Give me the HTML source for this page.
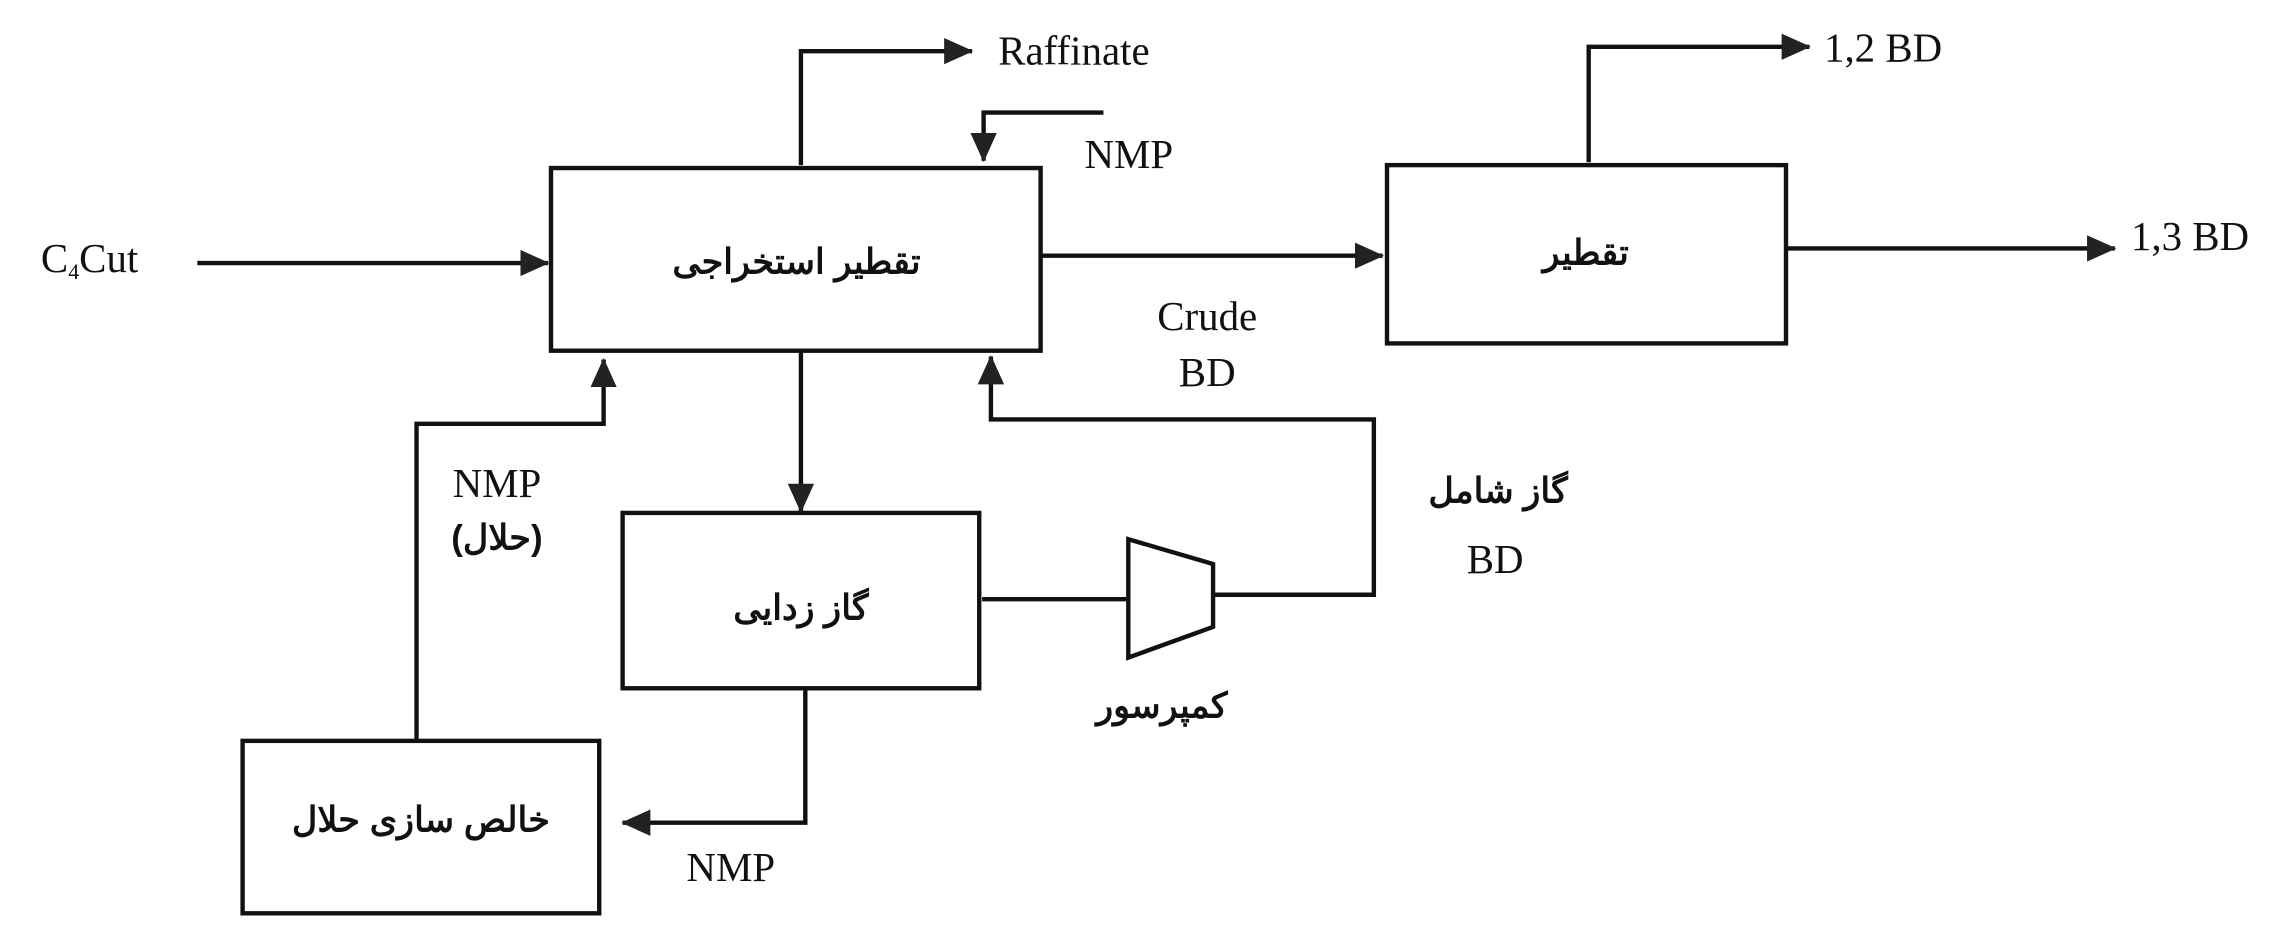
<!DOCTYPE html>
<html><head><meta charset="utf-8"><style>
html,body{margin:0;padding:0;background:#fff;}
svg{display:block}
.l{font-family:"Liberation Serif",serif;font-size:28px;fill:#111}
.p{font-family:"Liberation Sans","Noto Sans CJK SC",sans-serif;font-size:24px;font-weight:bold;fill:#111}
</style></head><body>
<svg width="2280" height="944" viewBox="0 0 1560 646" preserveAspectRatio="none" xmlns="http://www.w3.org/2000/svg">
<defs>
<marker id="b" markerWidth="20" markerHeight="18" refX="19" refY="9" orient="auto" markerUnits="userSpaceOnUse"><path d="M0,0 L20,9 L0,18z" fill="#222"/></marker></defs>
<g stroke="#111" stroke-width="3" fill="none">
<rect x="377" y="115" width="335" height="125"/>
<rect x="949" y="113" width="273" height="122"/>
<rect x="426" y="351" width="244" height="120"/>
<rect x="166" y="507" width="244" height="118"/>
<polygon points="772,369 830,386 830,429 772,450"/>
<path d="M135,180 H375" marker-end="url(#b)"/>
<path d="M548,113 V35 H665" marker-end="url(#b)"/>
<path d="M755,77 H673 V110" marker-end="url(#b)"/>
<path d="M712,175 H946" marker-end="url(#b)"/>
<path d="M1087,111 V32 H1238" marker-end="url(#b)"/>
<path d="M1222,170 H1447" marker-end="url(#b)"/>
<path d="M548,240 V350" marker-end="url(#b)"/>
<path d="M672,410 H772"/>
<path d="M830,407 H940 V287 H678 V244" marker-end="url(#b)"/>
<path d="M551,471 V563 H426" marker-end="url(#b)"/>
<path d="M285,507 V290 H413 V246" marker-end="url(#b)"/>
</g>
<text class="l" x="28" y="186">C<tspan font-size="15" dy="5">4</tspan><tspan dy="-5">Cut</tspan></text>
<text class="l" x="683" y="44">Raffinate</text>
<text class="l" x="742" y="115">NMP</text>
<text class="l" x="826" y="226" text-anchor="middle">Crude</text>
<text class="l" x="826" y="264" text-anchor="middle">BD</text>
<text class="l" x="1248" y="42">1,2 BD</text>
<text class="l" x="1458" y="171">1,3 BD</text>
<text class="l" x="1023" y="392" text-anchor="middle">BD</text>
<text class="l" x="340" y="340" text-anchor="middle">NMP</text>
<text class="l" x="500" y="603" text-anchor="middle">NMP</text>
<text class="p" x="545" y="187" text-anchor="middle" direction="rtl">تقطیر استخراجی</text>
<text class="p" x="1085" y="181" text-anchor="middle" direction="rtl">تقطیر</text>
<text class="p" x="548" y="424" text-anchor="middle" direction="rtl">گاز زدایی</text>
<text class="p" x="288" y="569" text-anchor="middle" direction="rtl">خالص سازی حلال</text>
<text class="p" x="1025" y="344" text-anchor="middle" direction="rtl">گاز شامل</text>
<text class="p" x="795" y="491" text-anchor="middle" direction="rtl">کمپرسور</text>
<text class="p" x="340" y="376" text-anchor="middle" direction="rtl">(حلال)</text>
</svg>
</body></html>
